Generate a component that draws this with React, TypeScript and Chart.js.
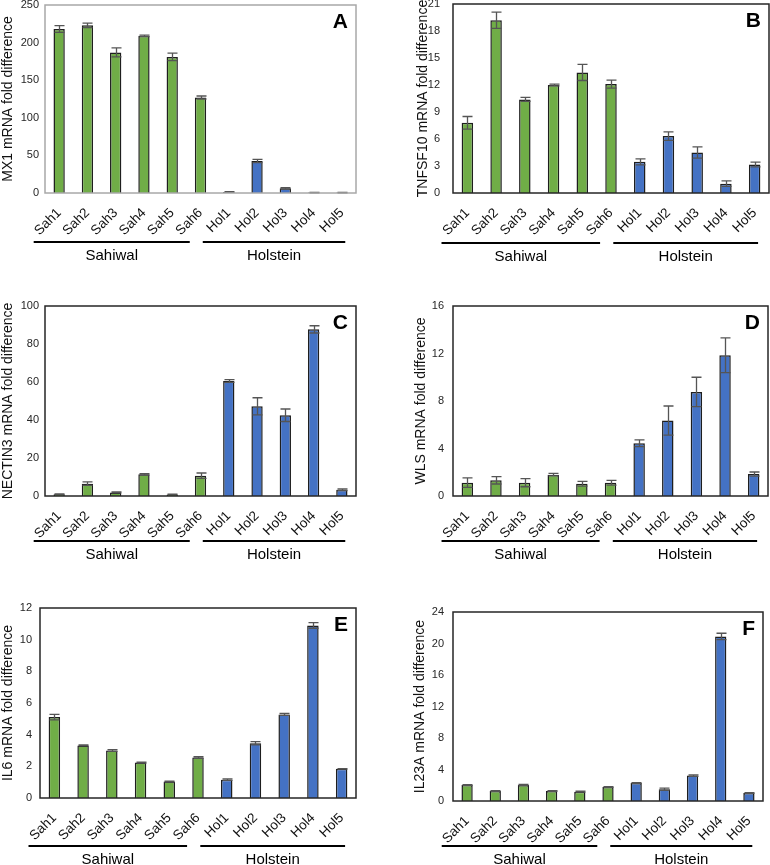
import React, { useEffect, useRef } from 'react';
import { Chart, registerables } from 'chart.js';

Chart.register(...registerables);

// ---------- data ----------
const categories = ['Sah1', 'Sah2', 'Sah3', 'Sah4', 'Sah5', 'Sah6', 'Hol1', 'Hol2', 'Hol3', 'Hol4', 'Hol5'];
const breeds = ['Sahiwal', 'Holstein'];
const breedOfCategory = ['Sahiwal', 'Sahiwal', 'Sahiwal', 'Sahiwal', 'Sahiwal', 'Sahiwal', 'Holstein', 'Holstein', 'Holstein', 'Holstein', 'Holstein'];

const mx1Values = [218, 223, 187, 209, 181, 127, 1.3, 42.5, 6.2, 0.5, 0.5];
const mx1Errors = [4.5, 3, 6, 1, 5, 2, 0.5, 2.2, 1, 0.3, 0.3];
const mx1Ticks = [0, 50, 100, 150, 200, 250];

const tnfsf10Values = [7.8, 19.2, 10.4, 12.0, 13.4, 12.1, 3.46, 6.32, 4.5, 1.04, 3.16];
const tnfsf10Errors = [0.7, 0.9, 0.22, 0.1, 0.9, 0.45, 0.33, 0.48, 0.63, 0.3, 0.26];
const tnfsf10Ticks = [0, 3, 6, 9, 12, 15, 18, 21];

const nectin3Values = [0.9, 6.5, 1.9, 11.4, 0.8, 10.7, 60.5, 47.2, 42.5, 87.7, 3.3];
const nectin3Errors = [0.2, 0.9, 0.3, 0.4, 0.2, 1.4, 0.7, 4.5, 3.3, 1.9, 0.4];
const nectin3Ticks = [0, 20, 40, 60, 80, 100];

const wlsValues = [1.12, 1.32, 1.12, 1.8, 1.04, 1.12, 4.44, 6.35, 8.76, 11.85, 1.85];
const wlsErrors = [0.4, 0.31, 0.34, 0.11, 0.2, 0.2, 0.28, 1.23, 1.24, 1.46, 0.17];
const wlsTicks = [0, 4, 8, 12, 16];

const il6Values = [5.11, 3.32, 3.0, 2.24, 1.04, 2.56, 1.16, 3.46, 5.28, 10.9, 1.84];
const il6Errors = [0.17, 0.03, 0.05, 0.03, 0.03, 0.05, 0.05, 0.1, 0.06, 0.18, 0.01];
const il6Ticks = [0, 2, 4, 6, 8, 10, 12];

const il23aValues = [2.04, 1.27, 2.04, 1.27, 1.19, 1.78, 2.29, 1.49, 3.23, 20.9, 1.02];
const il23aErrors = [0.05, 0.05, 0.08, 0.05, 0.05, 0.05, 0.05, 0.15, 0.1, 0.4, 0.05];
const il23aTicks = [0, 4, 8, 12, 16, 20, 24];

const yTitles = [
  'MX1 mRNA fold difference',
  'TNFSF10 mRNA fold difference',
  'NECTIN3 mRNA fold difference',
  'WLS mRNA fold difference',
  'IL6 mRNA fold difference',
  'IL23A mRNA fold difference',
];
const panelLetters = ['A', 'B', 'C', 'D', 'E', 'F'];

// ---------- styling / layout ----------
const FONT = "'Liberation Sans', Arial, Helvetica, sans-serif";
const GREEN = '#70AD47';
const BLUE = '#4472C4';
const breedColor: Record<string, string> = { Sahiwal: GREEN, Holstein: BLUE };

type PanelCfg = {
  values: number[];
  errors: number[];
  ticks: number[];
  title: string;
  letter: string;
  left: number; top: number; w: number; h: number;
  pl: number; pr: number; pt: number; pb: number; // plot box in page coords
  titleX: number;
  tickPad: number;
  frame: string;
  lineOffset: number;
};

const panels: PanelCfg[] = [
  { values: mx1Values, errors: mx1Errors, ticks: mx1Ticks, title: yTitles[0], letter: panelLetters[0],
    left: 0, top: 0, w: 385, h: 290, pl: 45, pr: 356, pt: 5, pb: 193, titleX: 8, tickPad: 6, frame: '#a8a8a8', lineOffset: 49 },
  { values: tnfsf10Values, errors: tnfsf10Errors, ticks: tnfsf10Ticks, title: yTitles[1], letter: panelLetters[1],
    left: 385, top: 0, w: 385, h: 290, pl: 453, pr: 769, pt: 4, pb: 193, titleX: 423, tickPad: 13, frame: '#262626', lineOffset: 50 },
  { values: nectin3Values, errors: nectin3Errors, ticks: nectin3Ticks, title: yTitles[2], letter: panelLetters[2],
    left: 0, top: 290, w: 385, h: 290, pl: 45, pr: 356, pt: 306, pb: 496, titleX: 8, tickPad: 6, frame: '#262626', lineOffset: 45 },
  { values: wlsValues, errors: wlsErrors, ticks: wlsTicks, title: yTitles[3], letter: panelLetters[3],
    left: 385, top: 290, w: 385, h: 290, pl: 453, pr: 768, pt: 306, pb: 496, titleX: 421, tickPad: 9, frame: '#262626', lineOffset: 45 },
  { values: il6Values, errors: il6Errors, ticks: il6Ticks, title: yTitles[4], letter: panelLetters[4],
    left: 0, top: 580, w: 385, h: 285, pl: 40, pr: 356, pt: 608, pb: 798, titleX: 8, tickPad: 8, frame: '#262626', lineOffset: 48 },
  { values: il23aValues, errors: il23aErrors, ticks: il23aTicks, title: yTitles[5], letter: panelLetters[5],
    left: 385, top: 580, w: 385, h: 285, pl: 453, pr: 763, pt: 612, pb: 801, titleX: 420, tickPad: 9, frame: '#262626', lineOffset: 45 },
];

const TITLE_SIZE = 14;
const TITLE_LH = TITLE_SIZE * 1.2;

function Panel({ cfg }: { cfg: PanelCfg }) {
  const ref = useRef<HTMLCanvasElement>(null);
  useEffect(() => {
    if (!ref.current) return;
    const padLeft = Math.max(0, cfg.titleX - TITLE_LH / 2 - cfg.left);
    const yAxisW = cfg.pl - cfg.left - padLeft;
    const padRight = cfg.left + cfg.w - cfg.pr;
    const padTop = cfg.pt - cfg.top;
    const xAxisH = cfg.top + cfg.h - cfg.pb;
    const step = cfg.ticks[1] - cfg.ticks[0];
    const yMax = cfg.ticks[cfg.ticks.length - 1];

    const decor = {
      id: 'decor' + cfg.letter,
      afterDatasetsDraw(chart: any) {
        const ctx = chart.ctx;
        const ys = chart.scales.y;
        const meta = chart.getDatasetMeta(0);
        // error bars
        ctx.save();
        ctx.strokeStyle = '#555555';
        ctx.lineWidth = 1.3;
        meta.data.forEach((bar: any, i: number) => {
          const v = cfg.values[i];
          const e = cfg.errors[i];
          const yTop = ys.getPixelForValue(v + e);
          const yBot = ys.getPixelForValue(Math.max(0, v - e));
          const x = Math.round(bar.x) + 0.5;
          const cap = 5;
          ctx.beginPath();
          ctx.moveTo(x, yTop);
          ctx.lineTo(x, yBot);
          ctx.moveTo(x - cap, yTop);
          ctx.lineTo(x + cap, yTop);
          ctx.moveTo(x - cap, yBot);
          ctx.lineTo(x + cap, yBot);
          ctx.stroke();
        });
        ctx.restore();
      },
      afterDraw(chart: any) {
        const ctx = chart.ctx;
        const area = chart.chartArea;
        const xs = chart.scales.x;
        ctx.save();
        // frame
        ctx.strokeStyle = cfg.frame;
        ctx.lineWidth = 1.5;
        ctx.strokeRect(area.left, area.top, area.right - area.left, area.bottom - area.top);
        // letter
        ctx.fillStyle = '#000';
        ctx.font = `bold 21px ${FONT}`;
        ctx.textAlign = 'right';
        ctx.textBaseline = 'top';
        ctx.fillText(cfg.letter, area.right - 8, area.top + 7);
        // group lines + labels
        const w = (area.right - area.left) / categories.length;
        const lineY = area.bottom + cfg.lineOffset;
        breeds.forEach((breed, bi) => {
          const idx = breedOfCategory.map((b, i) => (b === breed ? i : -1)).filter((i) => i >= 0);
          const first = idx[0];
          const last = idx[idx.length - 1];
          const x0 = xs.getPixelForValue(first) - (bi === 0 ? 0.9 : 0.92) * w;
          const x1 = xs.getPixelForValue(last) + (bi === 0 ? -0.38 : 0.12) * w;
          ctx.strokeStyle = '#000';
          ctx.lineWidth = 2;
          ctx.beginPath();
          ctx.moveTo(x0, lineY);
          ctx.lineTo(x1, lineY);
          ctx.stroke();
          ctx.fillStyle = '#000';
          ctx.font = `15px ${FONT}`;
          ctx.textAlign = 'center';
          ctx.textBaseline = 'middle';
          ctx.fillText(breed, (x0 + x1) / 2, lineY + 14);
        });
        ctx.restore();
      },
    };

    const chart = new Chart(ref.current, {
      type: 'bar',
      data: {
        labels: categories,
        datasets: [
          {
            data: cfg.values,
            backgroundColor: breedOfCategory.map((b) => breedColor[b]),
            borderColor: '#1e1e1e',
            borderWidth: 1.5,
            barPercentage: 0.4,
            categoryPercentage: 1,
          },
        ],
      },
      options: {
        animation: false,
        responsive: false,
        maintainAspectRatio: false,
        layout: { padding: { left: padLeft, right: padRight, top: padTop, bottom: 0 } },
        plugins: { legend: { display: false }, tooltip: { enabled: false } },
        scales: {
          x: {
            grid: { display: false, drawTicks: false },
            border: { display: false },
            ticks: {
              autoSkip: false,
              maxRotation: 45,
              minRotation: 45,
              padding: 12,
              color: '#111',
              font: { family: FONT, size: 13.5 },
            },
            afterFit: (s: any) => {
              s.height = xAxisH;
              s.paddingLeft = 0;
              s.paddingRight = 0;
            },
          },
          y: {
            min: 0,
            max: yMax,
            grid: { display: false, drawTicks: false },
            border: { display: false },
            ticks: {
              stepSize: step,
              padding: cfg.tickPad,
              color: '#262626',
              font: { family: FONT, size: 11 },
            },
            title: {
              display: true,
              text: cfg.title,
              color: '#111',
              padding: 0,
              font: { family: FONT, size: TITLE_SIZE },
            },
            afterFit: (s: any) => {
              s.width = yAxisW;
              s.paddingTop = 0;
              s.paddingBottom = 0;
            },
          },
        },
      } as any,
      plugins: [decor],
    });
    return () => chart.destroy();
  }, [cfg]);
  return (
    <canvas
      ref={ref}
      width={cfg.w}
      height={cfg.h}
      style={{ position: 'absolute', left: cfg.left, top: cfg.top, width: cfg.w, height: cfg.h }}
    />
  );
}

export default function App() {
  return (
    <div style={{ position: 'absolute', left: 0, top: 0, width: 770, height: 865, background: '#fff' }}>
      {panels.map((p) => (
        <Panel key={p.letter} cfg={p} />
      ))}
    </div>
  );
}
